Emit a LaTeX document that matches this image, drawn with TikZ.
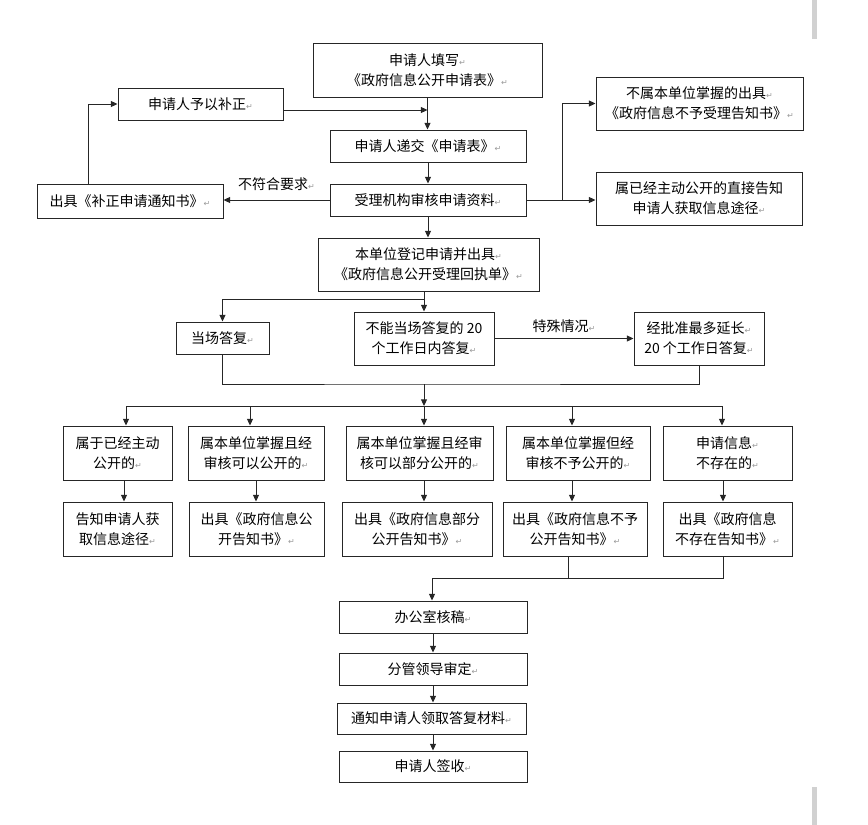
\documentclass[tikz,border=0pt]{standalone}
\usepackage{fontspec}
\newfontfamily\cjk{Noto Sans CJK SC}
\newfontfamily\djv{DejaVu Sans}
\usepackage{tikz}
\usetikzlibrary{arrows.meta}
\newcommand\parmark{{\djv\fontsize{6}{6}\selectfont\textcolor{black!40}{↵}}}
\tikzset{
  box/.style 2 args={draw=black!85, line width=0.75pt, inner sep=0pt, align=center,
    minimum width=#1*0.75pt, minimum height=#2*0.75pt, font=\cjk\fontsize{10.5}{15}\selectfont},
  arr/.style={-{Triangle[length=5pt,width=4.5pt]}, line width=0.75pt, draw=black!85},
  ln/.style={line width=0.75pt, draw=black!85},
  lbl/.style={font=\cjk\fontsize{10.5}{15}\selectfont}
}

\begin{document}
\begin{tikzpicture}[x=0.75pt, y=-0.75pt]
\useasboundingbox (0,0) rectangle (868,825);
\fill [black!18] (812,0) rectangle (817,39);
\fill [black!18] (812,787) rectangle (817,825);

\node [box={229}{54}] (fill) at (427.5,70) {申请人填写\parmark\\《政府信息公开申请表》\parmark};
\node [box={165}{32}] (fix) at (200.5,104) {申请人予以补正\parmark};
\node [box={196}{32}] (submit) at (428,146) {申请人递交《申请表》\parmark};
\node [box={186}{34}] (notice) at (130,201) {出具《补正申请通知书》\parmark};
\node [box={196}{32}] (review) at (428,200) {受理机构审核申请资料\parmark};
\node [box={221}{53}] (register) at (428.5,264.5) {本单位登记申请并出具\parmark\\《政府信息公开受理回执单》\parmark};
\node [box={207}{53}] (reject) at (699.5,103.5) {不属本单位掌握的出具\parmark\\《政府信息不予受理告知书》\parmark};
\node [box={206}{53}] (public) at (699,198.5) {属已经主动公开的直接告知\\申请人获取信息途径\parmark};
\node [box={93}{32}] (spot) at (222.5,338) {当场答复\parmark};
\node [box={140}{53}] (later) at (424,338.5) {不能当场答复的 20\\个工作日内答复\parmark};
\node [box={130}{53}] (extend) at (699,338.5) {经批准最多延长\parmark\\20 个工作日答复\parmark};

\node [box={109}{54}] (kindA) at (117.5,453) {属于已经主动\\公开的\parmark};
\node [box={136}{54}] (kindB) at (256,453) {属本单位掌握且经\\审核可以公开的\parmark};
\node [box={147}{54}] (kindC) at (419.5,453) {属本单位掌握且经审\\核可以部分公开的\parmark};
\node [box={144}{54}] (kindD) at (578,453) {属本单位掌握但经\\审核不予公开的\parmark};
\node [box={129}{54}] (kindE) at (727.5,453) {申请信息\parmark\\不存在的\parmark};

\node [box={109}{54}] (replyA) at (117.5,529) {告知申请人获\\取信息途径\parmark};
\node [box={135}{54}] (replyB) at (256.5,529) {出具《政府信息公\\开告知书》\parmark};
\node [box={150}{54}] (replyC) at (417,529) {出具《政府信息部分\\公开告知书》\parmark};
\node [box={144}{54}] (replyD) at (575,529) {出具《政府信息不予\\公开告知书》\parmark};
\node [box={129}{54}] (replyE) at (727.5,529) {出具《政府信息\\不存在告知书》\parmark};

\node [box={188}{32}] (office) at (433,617) {办公室核稿\parmark};
\node [box={188}{32}] (leader) at (433,669) {分管领导审定\parmark};
\node [box={189}{31}] (inform) at (431.5,718.5) {通知申请人领取答复材料\parmark};
\node [box={188}{31}] (sign) at (433,766.5) {申请人签收\parmark};

\coordinate (backin) at (427.5,110);
\coordinate (fork) at (562,200);
\coordinate (split) at (424,299);
\coordinate (join) at (424,384);
\coordinate (spread) at (424,406);
\coordinate (gather) at (432,578);

\draw [arr] (fill.south) -- (fill.south |- submit.north);
\draw [arr] (fix.east |- backin) -- (backin);
\draw [arr] ([xshift=39pt]notice.north west) |- (fix.west);
\draw [arr] (submit.south) -- (submit.south |- review.north);
\draw [arr] (review.west) -- (notice.east |- review.west) node [midway, above=3pt, lbl] {不符合要求\parmark};
\draw [arr] (review.east) -- (public.west |- review.east);
\draw [arr] (fork) |- (reject.west);
\draw [arr] (review.south) -- (review.south |- register.north);
\draw [ln] (register.south -| split) -- (split);
\draw [arr] (split) -- (later.north);
\draw [arr] (split) -| (spot.north);
\draw [arr] (later.east) -- (extend.west) node [midway, above=1pt, lbl] {特殊情况\parmark};
\draw [ln] (spot.south) |- (join) -| (extend.south);
\draw [arr] (join) -- (spread);
\draw [ln] (126,406) -- (722,406);
\foreach \n/\x in {kindA/126, kindB/250, kindC/424, kindD/572, kindE/722}
  \draw [arr] (\x,406) -- (\n.north -| \x,0);
\foreach \a/\b/\x in {kindA/replyA/124, kindB/replyB/256, kindC/replyC/424, kindD/replyD/572, kindE/replyE/723}
  \draw [arr] (\a.south -| \x,0) -- (\b.north -| \x,0);
\draw [ln] (replyD.south -| 568,0) |- (gather);
\draw [ln] (replyE.south -| 723,0) |- (gather);
\draw [arr] (gather) -- (office.north -| gather);
\draw [arr] (office.south) -- (leader.north);
\draw [arr] (leader.south) -- (leader.south |- inform.north);
\draw [arr] (inform.south -| sign.north) -- (sign.north);
\end{tikzpicture}
\end{document}
